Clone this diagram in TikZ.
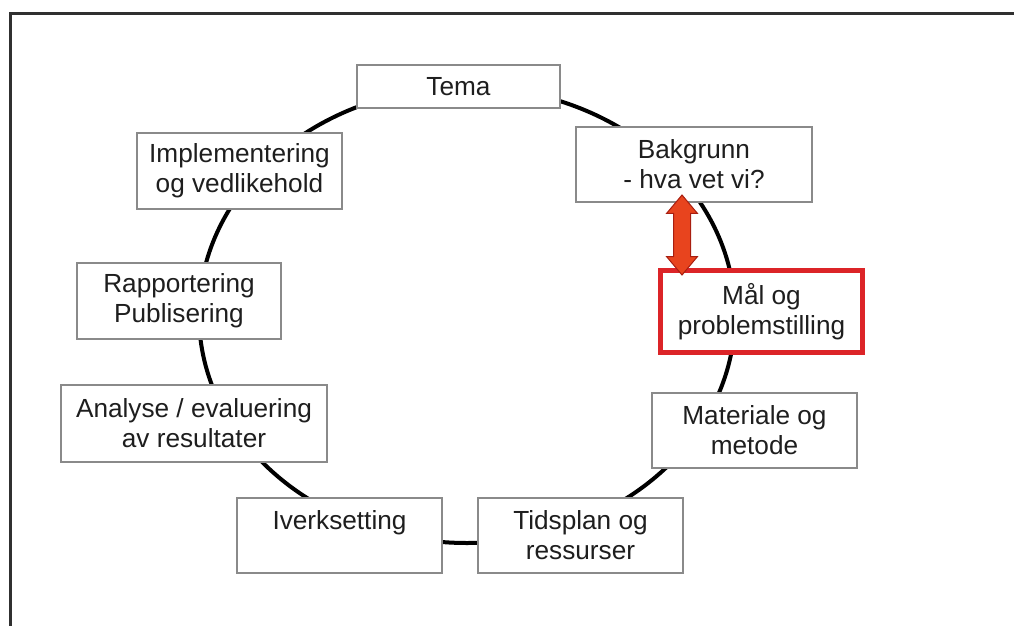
\documentclass[tikz,border=0pt]{standalone}
\usepackage{fontspec}
\setmainfont{Liberation Sans}
\usetikzlibrary{shapes.arrows}
\definecolor{boxgray}{HTML}{8A8A8A}
\definecolor{txt}{HTML}{1E1E1E}
\definecolor{hired}{HTML}{DC2428}
\definecolor{arrfill}{HTML}{E8441E}
\definecolor{arrline}{HTML}{A81E10}
\definecolor{framec}{HTML}{303030}
\tikzset{
  stagebox/.style={draw=boxgray, line width=2pt, fill=white, align=center,
    text=txt, inner sep=0pt, font=\fontsize{26.2}{30}\selectfont},
  focusbox/.style={stagebox, draw=hired, line width=5pt},
  cycleline/.style={line width=4pt, black},
  bidir/.style={double arrow, rotate=90, draw=arrline, fill=arrfill,
    line width=1pt, inner xsep=0pt, inner ysep=8pt, minimum height=80pt,
    double arrow head extend=7pt, double arrow tip angle=80}
}
\begin{document}
\begin{tikzpicture}[x=1pt,y=-1pt]
\useasboundingbox (0,0) rectangle (1014,626);
% frame (top and left edges)
\draw[framec, line width=3pt] (10,626) -- (10,14) -- (1014,14);
% cycle
\coordinate (c) at (467,315);
\draw[cycleline] (c) ellipse [x radius=268pt, y radius=228pt];
% stages
\node[stagebox, minimum width=203pt, minimum height=43pt] (tema) at (458.5,86.5) {Tema};
\node[stagebox, minimum width=236pt, minimum height=75pt] (bak) at (694,164.5) {Bakgrunn\\- hva vet vi?};
\node[focusbox, minimum width=202pt, minimum height=82pt] (mal) at (761.5,311.5) {Mål og\\problemstilling};
\node[stagebox, minimum width=205pt, minimum height=75pt] (mat) at (754.5,430.5) {Materiale og\\metode};
\node[stagebox, minimum width=205pt, minimum height=75pt] (tid) at (580.5,535.5) {Tidsplan og\\ressurser};
\node[stagebox, minimum width=205pt, minimum height=75pt] (ivk) at (339.5,535.5) {Iverksetting\\~};
\node[stagebox, minimum width=266pt, minimum height=77pt] (ana) at (194,423.5) {Analyse / evaluering\\av resultater};
\node[stagebox, minimum width=204pt, minimum height=76pt] (rap) at (179,301) {Rapportering\\Publisering};
\node[stagebox, minimum width=205pt, minimum height=76pt] (imp) at (239.5,171) {Implementering\\og vedlikehold};
% red double arrow between Bakgrunn and Mål
\node[bidir] (arr) at (682,235) {};
\end{tikzpicture}
\end{document}
